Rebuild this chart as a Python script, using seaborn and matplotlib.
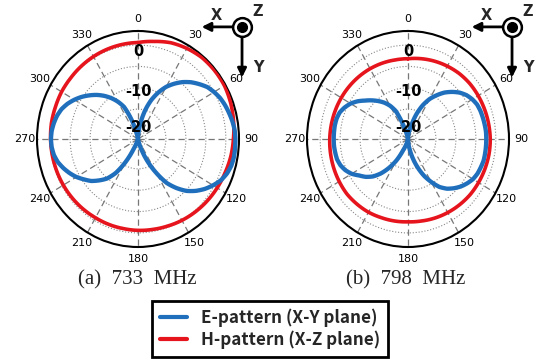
import numpy as np
import pandas as pd
import matplotlib
matplotlib.use("Agg")
import matplotlib.pyplot as plt
from matplotlib.lines import Line2D
import seaborn as sns

# Angles in degrees (0 at top, clockwise)
angles_e = list(range(0, 360, 5))
angles_h = list(range(0, 360, 10))

# Normalized gain (dB) at 733 MHz
e_733 = [-22.0, -20.5, -18.0, -15.0, -12.3, -10.0, -7.9, -6.2, -4.6, -3.2, -2.0, -0.8,
         0.0, 0.7, 1.2, 1.6, 2.0, 2.3, 2.4, 2.4, 2.4, 2.2, 1.7, 0.9,
         -0.3, -1.6, -3.1, -4.8, -7.0, -9.4, -12.8, -16.0, -19.0, -21.0, -22.0, -22.0,
         -22.0, -22.0, -22.0, -22.0, -21.5, -19.5, -15.8, -12.3, -9.9, -8.3, -6.7, -5.5,
         -4.2, -3.1, -2.1, -1.2, -0.6, -0.3, -0.2, -0.3, -0.6, -1.0, -1.6, -2.5,
         -3.6, -4.8, -6.1, -7.4, -8.8, -10.3, -11.9, -13.7, -17.0, -20.5, -22.0, -22.0]
h_733 = [0.6, 1.2, 2.0, 2.5, 2.9, 3.0, 3.0, 2.7, 2.3, 1.9, 1.6, 1.2,
         0.9, 0.6, 0.3, 0.0, -0.3, -0.5, -0.6, -0.7, -0.7, -0.7, -0.6, -0.5,
         -0.4, -0.3, -0.2, -0.1, 0.0, 0.0, 0.1, 0.1, 0.2, 0.3, 0.4, 0.5]

# Normalized gain (dB) at 798 MHz
e_798 = [-22.0, -21.0, -20.0, -18.5, -15.8, -13.3, -11.2, -9.5, -7.8, -6.4, -5.1, -4.1,
         -3.4, -2.9, -2.7, -2.6, -2.5, -2.4, -2.4, -2.4, -2.4, -2.4, -2.6, -2.8,
         -3.2, -3.9, -4.7, -5.7, -6.8, -8.3, -10.4, -12.5, -14.9, -17.3, -19.5, -21.0,
         -22.0, -22.0, -22.0, -21.5, -20.5, -19.0, -16.2, -13.8, -11.5, -9.6, -8.2, -7.1,
         -5.7, -4.7, -4.0, -3.6, -3.5, -3.4, -3.4, -3.4, -3.4, -3.5, -3.8, -4.5,
         -5.4, -6.6, -8.0, -9.2, -10.4, -11.6, -13.0, -14.8, -18.5, -21.0, -22.0, -22.0]
h_798 = [-3.2, -2.9, -2.6, -2.3, -2.0, -1.8, -1.7, -1.6, -1.5, -1.4, -1.4, -1.5,
         -1.6, -1.7, -1.9, -2.1, -2.3, -2.5, -2.6, -2.5, -2.4, -2.2, -2.1, -2.0,
         -2.1, -2.2, -2.3, -2.4, -2.5, -2.6, -2.7, -2.8, -2.9, -3.0, -3.1, -3.2]

theta_ticks = [0, 30, 60, 90, 120, 150, 180, 210, 240, 270, 300, 330]
r_grid = [-20, -15, -10, -5, 0]
r_labels = ["0", "-10", "-20"]
r_label_pos = [-1.4, -10.8, -19.4]
captions = ["(a)  733  MHz", "(b)  798  MHz"]
series_names = ["E-pattern (X-Y plane)", "H-pattern (X-Z plane)"]
r_min, r_max = -22.0, 3.3

blue = "#1f6fbd"
red = "#e6141c"

sns.set_theme(style="white")
plt.rcParams["font.family"] = ["DejaVu Sans"]

fig = plt.figure(figsize=(5.39, 3.61), dpi=100)
W, H = 539, 361


def closed(angles, vals):
    th = np.deg2rad(np.append(angles, 360))
    return th, np.append(vals, vals[0])


def draw_panel(ax, e_vals, h_vals, caption, cx):
    ax.set_theta_zero_location("N")
    ax.set_theta_direction(-1)
    ax.set_aspect("auto")
    for angles, vals, col, lw, z in [(angles_h, h_vals, red, 2.6, 3),
                                     (angles_e, e_vals, blue, 3.1, 4)]:
        th, r = closed(angles, vals)
        df = pd.DataFrame({"theta": th, "r": r})
        sns.lineplot(data=df, x="theta", y="r", sort=False, ax=ax,
                     color=col, lw=lw, zorder=z, estimator=None)
    # follow the polar arcs between samples
    for line in ax.lines:
        line.get_path()._interpolation_steps = 12
    ax.set_ylim(r_min, r_max)
    ax.set_xticks(np.deg2rad(theta_ticks))
    ax.set_xticklabels([str(t) for t in theta_ticks], fontsize=8)
    ax.set_yticks(r_grid)
    ax.set_yticklabels([])
    ax.set_xlabel("")
    ax.set_ylabel("")
    ax.xaxis.grid(True, color="#777777", ls=(0, (5, 3)), lw=0.9)
    ax.yaxis.grid(True, color="#888888", ls=":", lw=0.8)
    ax.tick_params(axis="x", pad=-1, direction="inout", length=6, width=1,
                   colors="black", labelcolor="black")
    ax.spines["polar"].set_linewidth(1.5)
    ax.spines["polar"].set_color("black")
    for lab, rp in zip(r_labels, r_label_pos):
        ax.text(0, rp, lab, ha="center", va="center", fontsize=10.5,
                fontweight="bold", color="black", zorder=6)
    # coordinate system icon
    kw = dict(transform=ax.transAxes, clip_on=False)
    ax.plot([1.015], [1.019], marker="o", ms=13.5, mfc="white", mec="black",
            mew=1.8, zorder=7, **kw)
    ax.plot([1.015], [1.019], marker="o", ms=7, mfc="black", mec="black",
            zorder=8, **kw)
    arrow = dict(arrowstyle="-|>", lw=2, color="black", mutation_scale=13,
                 shrinkA=0, shrinkB=0)
    ax.annotate("", xy=(0.815, 1.019), xytext=(0.966, 1.019),
                xycoords="axes fraction", arrowprops=arrow, annotation_clip=False)
    ax.annotate("", xy=(1.015, 0.785), xytext=(1.015, 0.975),
                xycoords="axes fraction", arrowprops=arrow, annotation_clip=False)
    ax.text(0.886, 1.074, "X", fontsize=10.5, fontweight="bold", ha="center",
            va="center", **kw)
    ax.text(1.094, 1.088, "Z", fontsize=10.5, fontweight="bold", ha="center",
            va="center", **kw)
    ax.text(1.094, 0.829, "Y", fontsize=10.5, fontweight="bold", ha="center",
            va="center", **kw)
    fig.text(cx / W, 1 - 280 / H, caption, ha="center", va="center",
             fontsize=15, family="Liberation Serif")


ax1 = fig.add_axes([37 / W, 1 - 247 / H, 202 / W, 216 / H], projection="polar")
ax2 = fig.add_axes([307 / W, 1 - 247 / H, 202 / W, 216 / H], projection="polar")
draw_panel(ax1, e_733, h_733, captions[0], 137)
draw_panel(ax2, e_798, h_798, captions[1], 406)

handles = [Line2D([], [], color=blue, lw=3), Line2D([], [], color=red, lw=3)]
leg = fig.legend(handles, series_names, loc="center",
                 bbox_to_anchor=(270 / W, 1 - 329 / H), frameon=True,
                 fancybox=False, framealpha=1, edgecolor="black",
                 handlelength=1.6, handletextpad=0.8, borderpad=0.45,
                 labelspacing=0.2,
                 prop={"family": ["Noto Sans CJK KR", "DejaVu Sans"],
                       "weight": "bold", "size": 12.3})
leg.get_frame().set_linewidth(2)

fig.savefig("out.png", dpi=100)
